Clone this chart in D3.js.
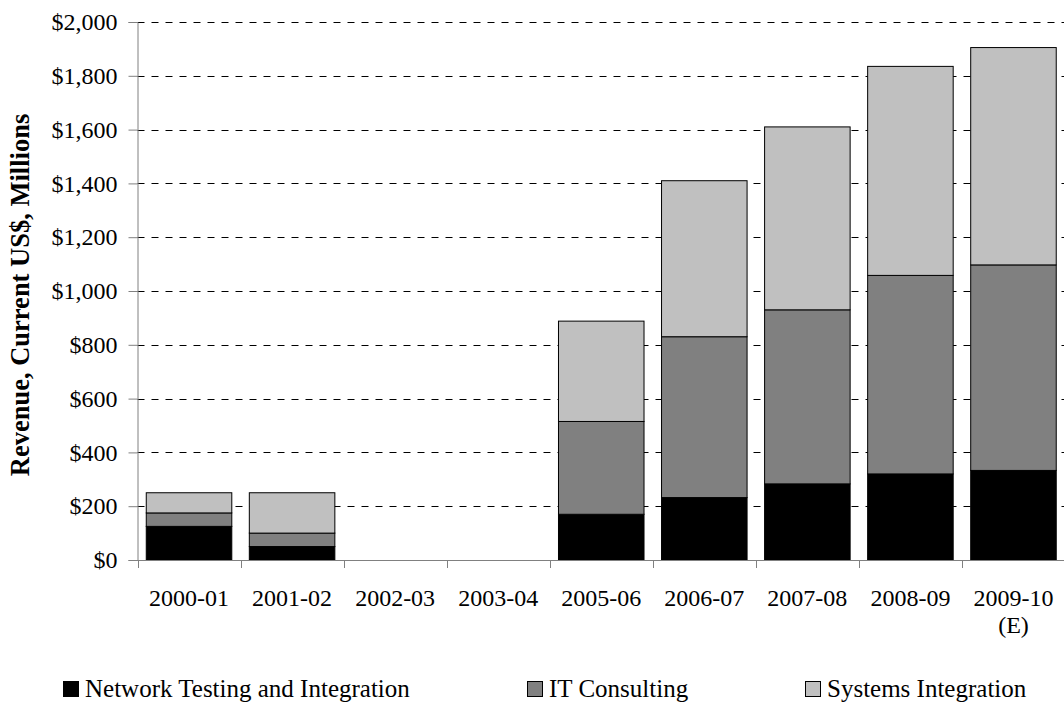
<!DOCTYPE html>
<html>
<head>
<meta charset="utf-8">
<script src="https://cdn.jsdelivr.net/npm/d3@7"></script>
<style>
  html, body { margin: 0; padding: 0; background: #fff; }
  svg { display: block; font-family: "Liberation Serif", "Times New Roman", serif; }
</style>
</head>
<body>
<svg id="chart" width="1064" height="702"></svg>
<script>
// Revenue by segment, current US$ millions
const categories = ["2000-01", "2001-02", "2002-03", "2003-04", "2005-06",
                    "2006-07", "2007-08", "2008-09", "2009-10\n(E)"];
const networkTesting = [125, 50, 0, 0, 170, 232, 283, 320, 333];
const itConsulting   = [50, 50, 0, 0, 345, 598, 647, 738, 764];
const systemsIntegr  = [75, 150, 0, 0, 373, 580, 680, 777, 808];
const seriesNames = ["Network Testing and Integration", "IT Consulting", "Systems Integration"];
const seriesColors = ["#000000", "#808080", "#c0c0c0"];
const yTicks = [0, 200, 400, 600, 800, 1000, 1200, 1400, 1600, 1800, 2000];
const yTitle = "Revenue, Current US$, Millions";

const svg = d3.select("#chart");
const plotLeft = 137.5, plotRight = 1065, plotTop = 22, plotBottom = 560;

const x = d3.scaleBand().domain(categories).range([plotLeft, plotRight])
  .paddingInner(0.17).paddingOuter(0.085);
const y = d3.scaleLinear().domain([0, 2000]).range([plotBottom, plotTop]);

// dashed horizontal gridlines
svg.append("g").selectAll("line")
  .data(yTicks.filter(d => d > 0))
  .join("line")
  .attr("x1", plotLeft).attr("x2", 1064)
  .attr("y1", d => Math.round(y(d)) + 0.5).attr("y2", d => Math.round(y(d)) + 0.5)
  .attr("stroke", "#000").attr("stroke-width", 1)
  .attr("stroke-dasharray", "7,7");

// stacked bars
const rows = categories.map((c, i) => ({
  cat: c, s0: networkTesting[i], s1: itConsulting[i], s2: systemsIntegr[i]
}));
const stack = d3.stack().keys(["s0", "s1", "s2"])(rows);
svg.append("g").selectAll("g")
  .data(stack)
  .join("g")
  .attr("fill", (d, i) => seriesColors[i])
  .selectAll("rect")
  .data(d => d.filter(p => p[1] > p[0]))
  .join("rect")
  .attr("x", p => x(p.data.cat))
  .attr("width", x.bandwidth())
  .attr("y", p => y(p[1]))
  .attr("height", p => y(p[0]) - y(p[1]))
  .attr("stroke", "#000").attr("stroke-width", 1);

// y axis
const yAxis = svg.append("g")
  .attr("transform", `translate(${plotLeft},0)`)
  .call(d3.axisLeft(y).tickValues(yTicks).tickSize(9).tickPadding(11)
    .tickFormat(d => "$" + d3.format(",")(d)));
yAxis.select(".domain").attr("stroke", "#808080");
yAxis.selectAll(".tick line").attr("stroke", "#808080");
yAxis.selectAll(".tick text").attr("font-size", 24).attr("fill", "#000")
  .attr("font-family", "Liberation Serif, serif");

// x axis: baseline, boundary ticks and category labels
const xg = svg.append("g");
xg.append("line")
  .attr("x1", plotLeft).attr("x2", 1064)
  .attr("y1", plotBottom + 0.5).attr("y2", plotBottom + 0.5)
  .attr("stroke", "#808080");
const step = x.step();
const bounds = d3.range(categories.length + 1).map(i => plotLeft + i * step);
xg.selectAll("line.tk").data(bounds).join("line").attr("class", "tk")
  .attr("x1", d => Math.round(d) + 0.5).attr("x2", d => Math.round(d) + 0.5)
  .attr("y1", plotBottom).attr("y2", plotBottom + 8)
  .attr("stroke", "#808080");
const lbl = xg.selectAll("text").data(categories).join("text")
  .attr("x", d => x(d) + x.bandwidth() / 2)
  .attr("y", 606)
  .attr("text-anchor", "middle")
  .attr("font-size", 24);
lbl.selectAll("tspan").data(d => d.split("\n")).join("tspan")
  .attr("x", function () { return d3.select(this.parentNode).attr("x"); })
  .attr("dy", (d, i) => i === 0 ? 0 : 27)
  .text(d => d);

// y axis title
svg.append("text")
  .attr("transform", "translate(29,295) rotate(-90)")
  .attr("text-anchor", "middle")
  .attr("font-size", 26.5).attr("font-weight", "bold")
  .text(yTitle);

// legend
const legendX = [63, 527, 805];
const lg = svg.append("g").selectAll("g").data(seriesNames).join("g")
  .attr("transform", (d, i) => `translate(${legendX[i]},681)`);
lg.append("rect").attr("x", 0.5).attr("y", 0.5).attr("width", 15).attr("height", 15)
  .attr("fill", (d, i) => seriesColors[i]).attr("stroke", "#000");
lg.append("text").attr("x", 22).attr("y", 16).attr("font-size", 25).text(d => d);
</script>
</body>
</html>
